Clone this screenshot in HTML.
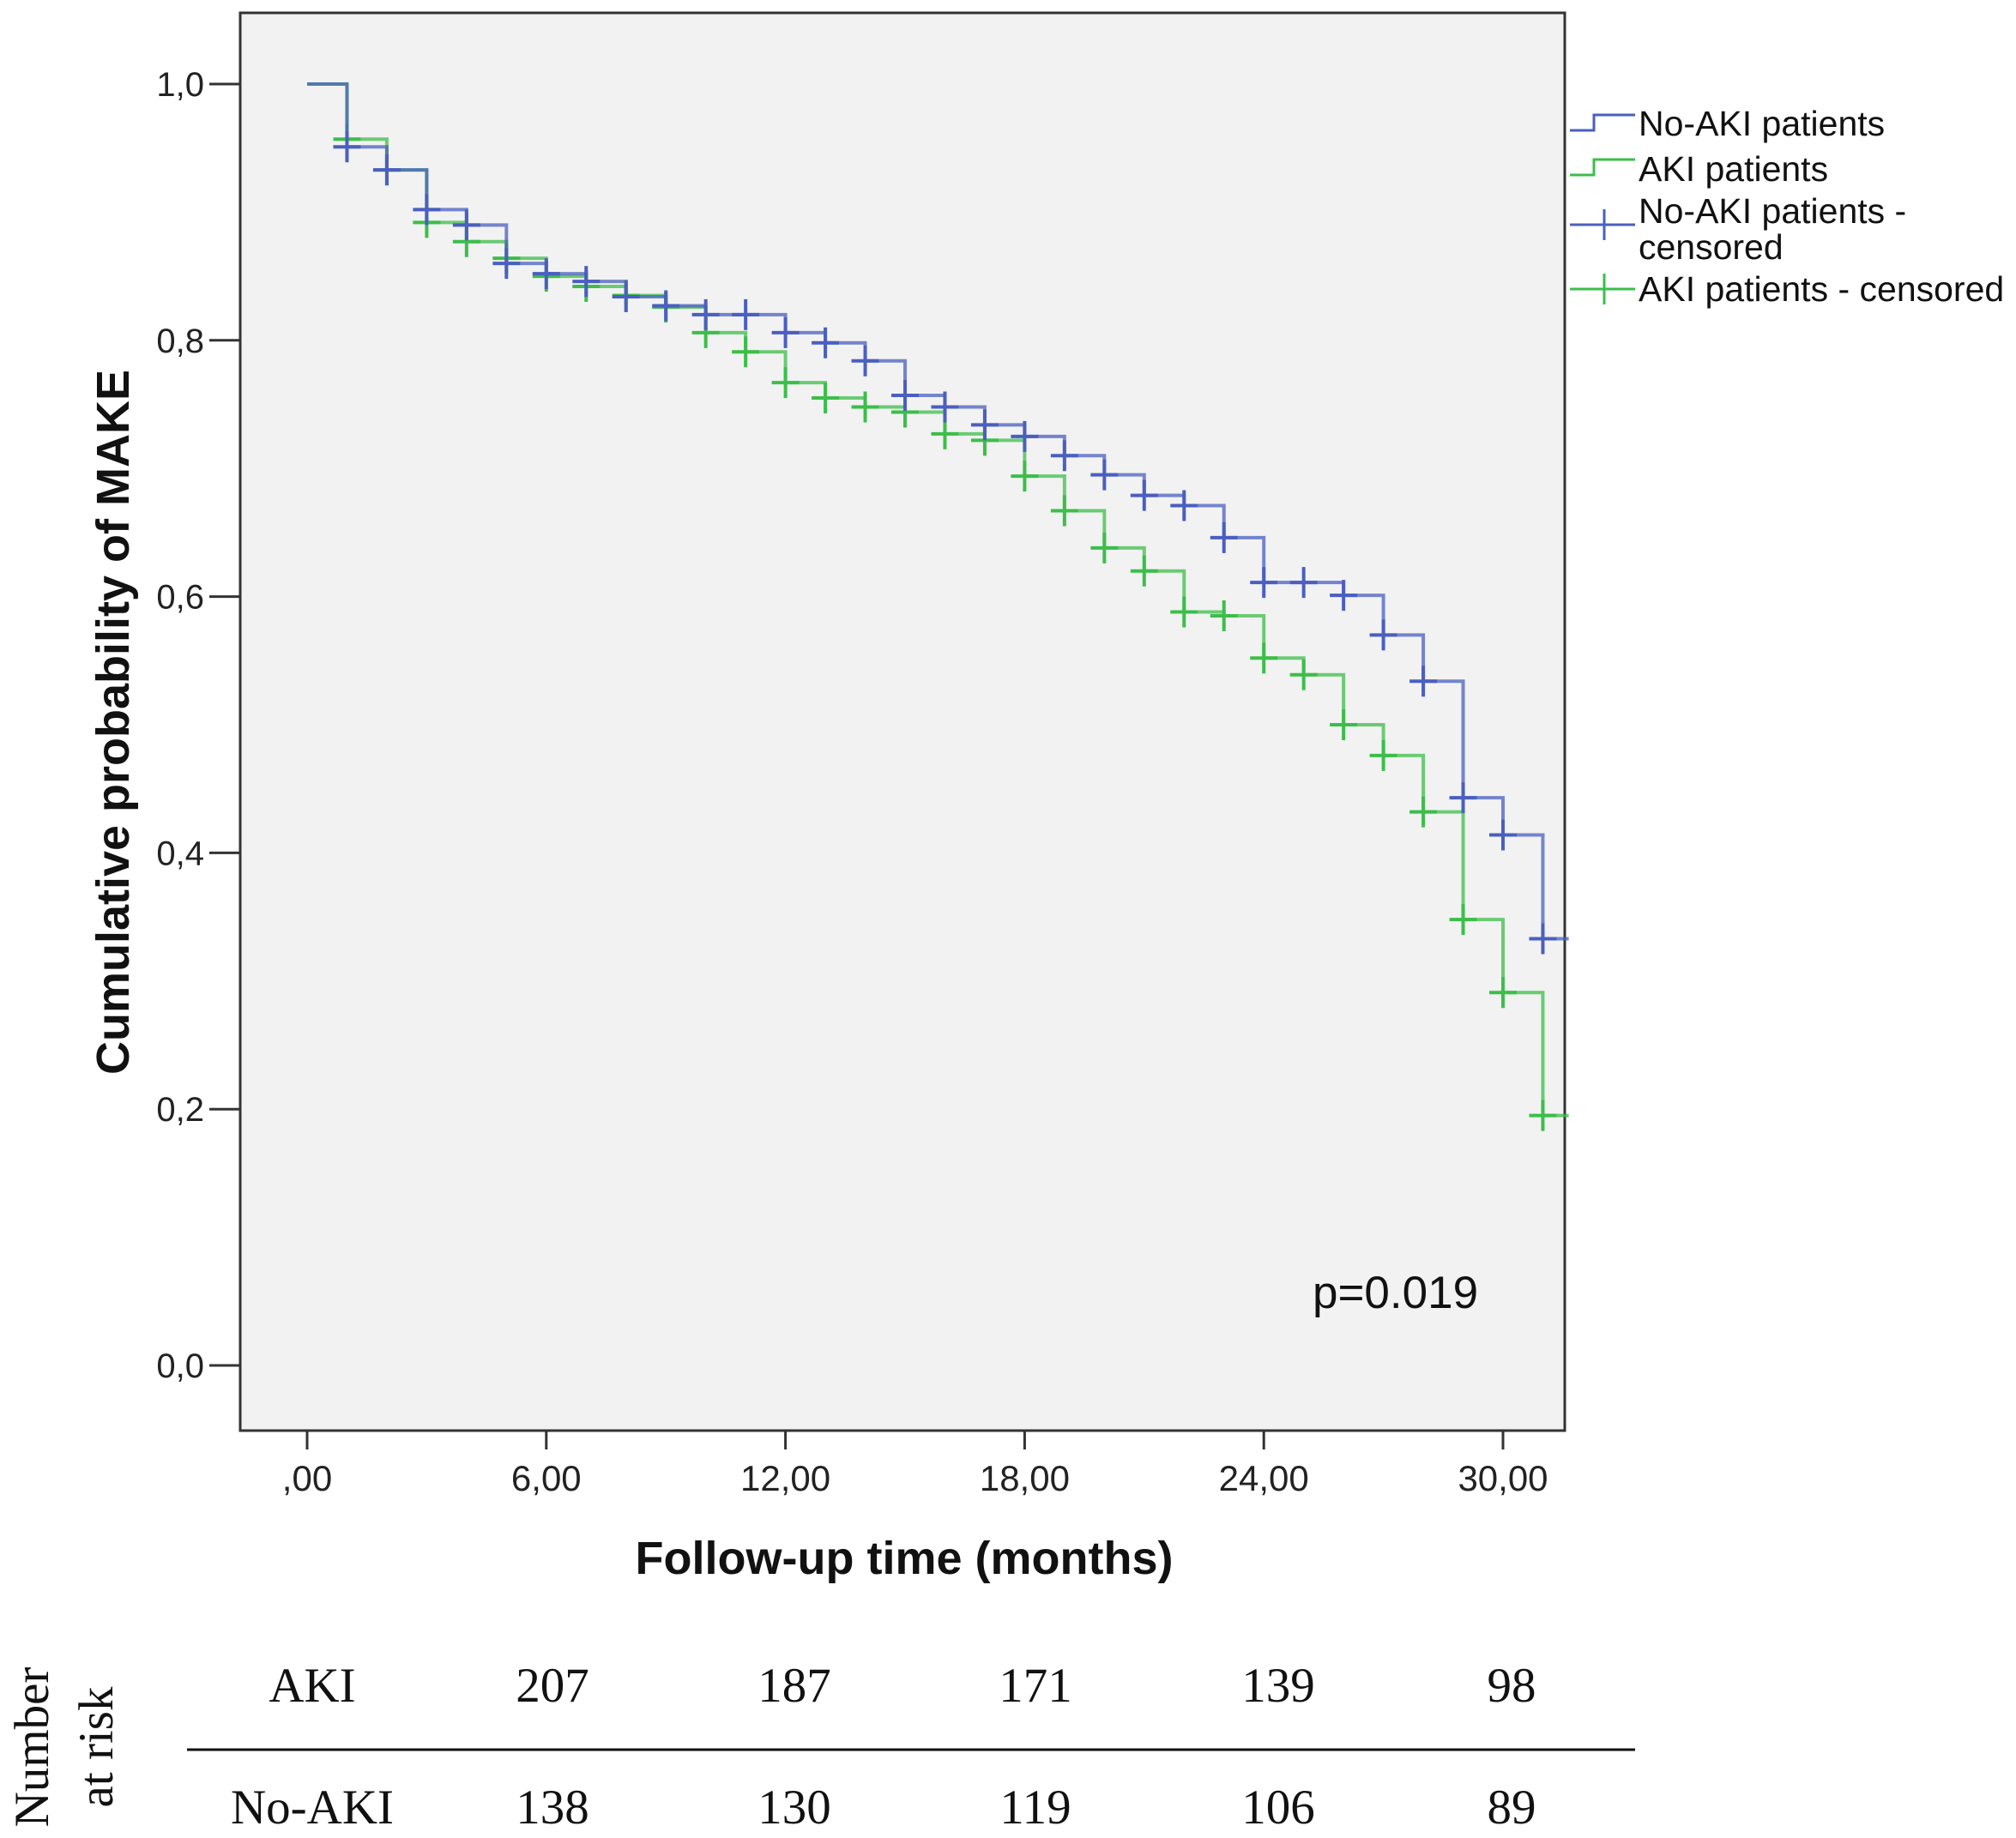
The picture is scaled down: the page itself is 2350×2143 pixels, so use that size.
<!DOCTYPE html>
<html><head><meta charset="utf-8">
<style>
html,body{margin:0;padding:0;background:#fff;}
svg{display:block;font-family:"Liberation Sans",Arial,sans-serif;}
</style></head>
<body>
<svg id="chart" width="2350" height="2143" viewBox="0 0 2350 2143" xmlns="http://www.w3.org/2000/svg">
<rect x="280" y="15" width="1544" height="1653" fill="#f2f2f2" stroke="#333" stroke-width="3"/>
<g id="yaxis"></g>
<g id="xaxis"></g>
<g id="series"></g>
<text x="0" y="0" transform="translate(150,842) rotate(-90)" text-anchor="middle" font-size="54" font-weight="bold" fill="#111">Cumulative probability of MAKE</text>
<text x="1054" y="1835" text-anchor="middle" font-size="54" font-weight="bold" fill="#111">Follow-up time (months)</text>
<text x="1530" y="1525" font-size="53" fill="#111">p=0.019</text>
<g font-size="41" fill="#111">
 <g>
  <path d="M1830,152 H1858 V134 H1906" fill="none" stroke="#4a5fbf" stroke-width="3"/>
  <text x="1910" y="158">No-AKI patients</text></g>
 <g>
  <path d="M1830,204 H1858 V186 H1906" fill="none" stroke="#3cbe4a" stroke-width="3"/>
  <text x="1910" y="211">AKI patients</text></g>
 <g>
  <path d="M1830,262 H1906 M1870,244 V280" fill="none" stroke="#4a5fbf" stroke-width="3"/>
  <text x="1910" y="260">No-AKI patients -</text>
  <text x="1910" y="302">censored</text></g>
 <g>
  <path d="M1830,337 H1906 M1870,319 V355" fill="none" stroke="#3cbe4a" stroke-width="3"/>
  <text x="1910" y="351">AKI patients - censored</text></g>
</g>
<g font-family="Liberation Serif,serif" font-size="57" fill="#111">
 <text transform="translate(56,2037) rotate(-90)" text-anchor="middle">Number</text>
 <text transform="translate(131,2037) rotate(-90)" text-anchor="middle">at risk</text>
 <line x1="218" y1="2040" x2="1906" y2="2040" stroke="#111" stroke-width="3"/>
 <g id="riskrows"></g>
</g>
</svg>
<script>
const yTicks=[0,0.2,0.4,0.6,0.8,1.0];
const yTickLabels=["0,0","0,2","0,4","0,6","0,8","1,0"];
const xTicks=[0,6,12,18,24,30];
const xTickLabels=[",00","6,00","12,00","18,00","24,00","30,00"];
const noAkiLevels=[1.0,0.951,0.933,0.902,0.89,0.86,0.852,0.846,0.834,0.827,0.82,0.82,0.806,0.798,0.784,0.757,0.748,0.734,0.725,0.71,0.695,0.679,0.671,0.646,0.611,0.611,0.601,0.57,0.534,0.443,0.414,0.333];
const akiLevels=[1.0,0.957,0.933,0.892,0.877,0.864,0.85,0.842,0.835,0.826,0.806,0.791,0.767,0.755,0.748,0.744,0.727,0.722,0.694,0.667,0.638,0.62,0.588,0.585,0.552,0.539,0.5,0.476,0.432,0.348,0.291,0.195];
const riskGroups=["AKI","No-AKI"];
const riskAki=[207,187,171,139,98];
const riskNoAki=[138,130,119,106,89];
const xEnd=31.65;

const NS="http://www.w3.org/2000/svg";
const X=m=>358+m*(1752-358)/30;
const Y=v=>1592-v*(1592-98);
function mk(tag,attrs,parent){const e=document.createElementNS(NS,tag);for(const k in attrs)e.setAttribute(k,attrs[k]);parent.appendChild(e);return e;}
const ya=document.getElementById('yaxis'),xa=document.getElementById('xaxis'),sg=document.getElementById('series');
yTicks.forEach((t,i)=>{
 const l=mk('line',{x1:244,x2:280,y1:Y(t),y2:Y(t),stroke:'#333','stroke-width':3},ya);
 
 
 const tx=mk('text',{x:238,y:Y(t)+14,'text-anchor':'end','font-size':40,fill:'#222'},ya);
 tx.textContent=yTickLabels[i];
 
 
});
xTicks.forEach((t,i)=>{
 const l=mk('line',{x1:X(t),x2:X(t),y1:1668,y2:1690,stroke:'#333','stroke-width':3},xa);
 
 
 const tx=mk('text',{x:X(t),y:1738,'text-anchor':'middle','font-size':42,fill:'#222'},xa);
 tx.textContent=xTickLabels[i];
 
 
});
function drawCurve(levels,color,name){
 let d='M'+X(0)+','+Y(levels[0]);
 for(let k=1;k<levels.length;k++){d+=' H'+X(k)+' V'+Y(levels[k]);}
 d+=' H'+X(xEnd);
 const p=mk('path',{d:d,fill:'none',stroke:color,'stroke-width':4,'stroke-opacity':0.75},sg);
 
 
 for(let k=1;k<levels.length;k++){
  const c=mk('path',{d:'M'+(X(k)-16)+','+Y(levels[k])+' h32 M'+X(k)+','+(Y(levels[k])-18)+' v36',stroke:color,'stroke-width':4,fill:'none'},sg);
  
  
 }
}
drawCurve(akiLevels,'#3cbe4a','aki');
drawCurve(noAkiLevels,'#4a5fbf','no-aki');
const rr=document.getElementById('riskrows');
const cols=[644,926,1207,1490,1762];
[[riskAki,1992],[riskNoAki,2134]].forEach((row,ri)=>{
 const g=mk('text',{x:364,y:row[1]-8,'text-anchor':'middle'},rr);
 g.textContent=riskGroups[ri];
 
 
 row[0].forEach((v,i)=>{
  const t=mk('text',{x:cols[i],y:row[1]-8,'text-anchor':'middle'},rr);
  t.textContent=v;
  
  
 });
});
</script>
</body></html>
